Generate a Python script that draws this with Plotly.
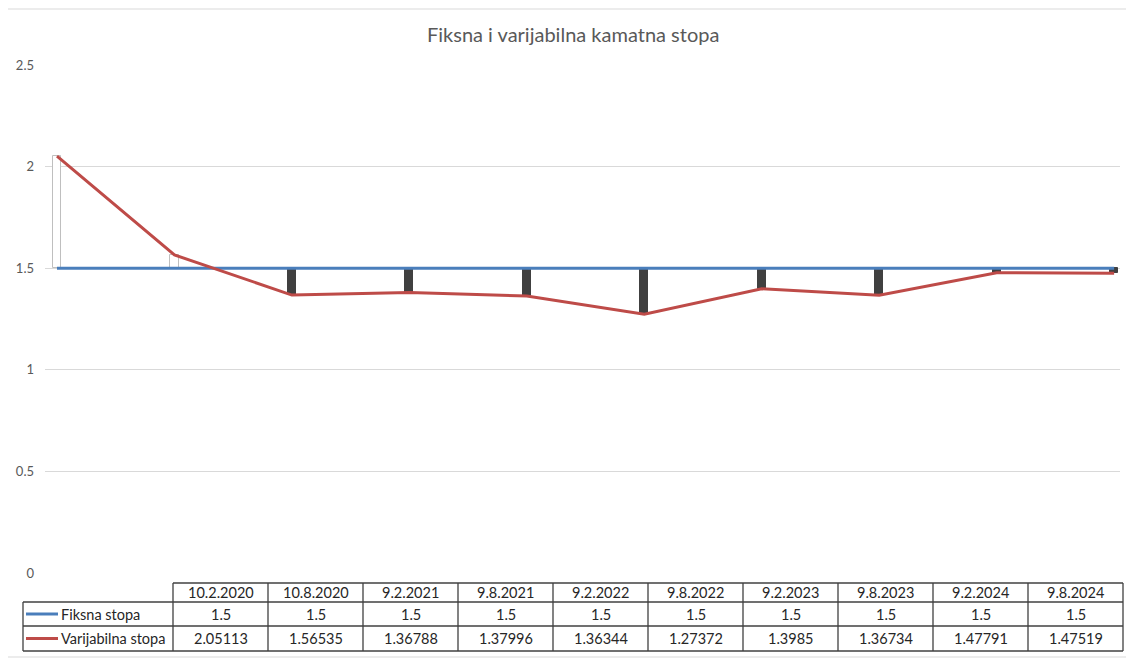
import plotly.graph_objects as go

# ---- data ----
dates = ["10.2.2020", "10.8.2020", "9.2.2021", "9.8.2021", "9.2.2022",
         "9.8.2022", "9.2.2023", "9.8.2023", "9.2.2024", "9.8.2024"]
fiksna = [1.5, 1.5, 1.5, 1.5, 1.5, 1.5, 1.5, 1.5, 1.5, 1.5]
varijabilna = [2.05113, 1.56535, 1.36788, 1.37996, 1.36344,
               1.27372, 1.3985, 1.36734, 1.47791, 1.47519]
series_names = ["Fiksna stopa", "Varijabilna stopa"]
title = "Fiksna i varijabilna kamatna stopa"

W, H = 1134, 659
OFF = 8  # page body margin
FONT = "Lato, 'Open Sans', sans-serif"
BLUE = "#4A7EBB"
RED = "#BE4B48"
GRID = "#D9D9D9"
TXT = "#595959"
TABLE_LINE = "#404040"


def px(x):
    return (x - OFF) / W


def py(y):
    return 1 - (y - OFF) / H


idx = list(range(len(dates)))
diff = [v - f for v, f in zip(varijabilna, fiksna)]
bar_colors = ["#FFFFFF" if d > 0 else "#404040" for d in diff]
bar_lines = ["#BFBFBF" if d > 0 else "#404040" for d in diff]

fig = go.Figure()
fig.add_trace(go.Bar(
    x=idx, y=diff, base=fiksna, width=0.07,
    marker=dict(color=bar_colors, line=dict(color=bar_lines, width=1)),
    hoverinfo="skip", showlegend=False,
))
fig.add_trace(go.Scatter(
    x=idx, y=fiksna, mode="lines", name=series_names[0],
    line=dict(color=BLUE, width=3), showlegend=False,
))
fig.add_trace(go.Scatter(
    x=idx, y=varijabilna, mode="lines", name=series_names[1],
    line=dict(color=RED, width=3), showlegend=False,
))

fig.update_layout(
    width=W, height=H,
    margin=dict(l=0, r=0, t=0, b=0),
    paper_bgcolor="white", plot_bgcolor="white",
    font=dict(family=FONT, color=TXT),
    showlegend=False,
    xaxis=dict(domain=[px(45), px(1120)], range=[-0.102, 9.05],
               showgrid=False, zeroline=False, showticklabels=False,
               showline=False, fixedrange=True, automargin=False),
    yaxis=dict(domain=[py(573), py(65)], range=[0, 2.5], dtick=0.5,
               showgrid=True, gridcolor=GRID, gridwidth=1,
               zeroline=False, showline=False, automargin=False,
               tickfont=dict(size=13, color=TXT, family=FONT),
               ticklabelstandoff=10, fixedrange=True),
    bargap=0,
)

shapes = []
annotations = []

# outer chart border
shapes.append(dict(type="rect", xref="paper", yref="paper",
                   x0=px(6), x1=px(1133), y0=py(9), y1=py(657),
                   line=dict(color=GRID, width=1)))

# title
annotations.append(dict(text=title, xref="paper", yref="paper",
                        x=px(573), y=py(34), showarrow=False,
                        xanchor="center", yanchor="middle",
                        font=dict(size=20, color=TXT, family=FONT)))

# ---- data table ----
col0_left, col_start, col_w = 23, 173, 95
n = len(dates)
right = col_start + col_w * n
rows_y = [583, 602, 626, 651]


def hline(x0, x1, y):
    shapes.append(dict(type="line", xref="paper", yref="paper",
                       x0=px(x0), x1=px(x1), y0=py(y), y1=py(y),
                       line=dict(color=TABLE_LINE, width=1.3)))


def vline(x, y0, y1):
    shapes.append(dict(type="line", xref="paper", yref="paper",
                       x0=px(x), x1=px(x), y0=py(y0), y1=py(y1),
                       line=dict(color=TABLE_LINE, width=1.3)))


hline(col_start, right, rows_y[0])
for y in rows_y[1:]:
    hline(col0_left, right, y)
vline(col0_left, rows_y[1], rows_y[3])
for i in range(n + 1):
    vline(col_start + col_w * i, rows_y[0], rows_y[3])

TFONT = dict(size=14.5, color="#262626", family=FONT)
row_centers = [(rows_y[k] + rows_y[k + 1]) / 2 for k in range(3)]
for i, d in enumerate(dates):
    cx = col_start + col_w * i + col_w / 2
    annotations.append(dict(text=d, xref="paper", yref="paper", x=px(cx),
                            y=py(row_centers[0]), showarrow=False,
                            xanchor="center", yanchor="middle", font=TFONT))
    annotations.append(dict(text=str(fiksna[i]), xref="paper", yref="paper",
                            x=px(cx), y=py(row_centers[1]), showarrow=False,
                            xanchor="center", yanchor="middle", font=TFONT))
    annotations.append(dict(text=str(varijabilna[i]), xref="paper", yref="paper",
                            x=px(cx), y=py(row_centers[2]), showarrow=False,
                            xanchor="center", yanchor="middle", font=TFONT))

# legend keys within the table
for k, (name, col) in enumerate(zip(series_names, [BLUE, RED])):
    yc = row_centers[k + 1]
    shapes.append(dict(type="line", xref="paper", yref="paper",
                       x0=px(26), x1=px(58), y0=py(yc), y1=py(yc),
                       line=dict(color=col, width=3)))
    annotations.append(dict(text=name, xref="paper", yref="paper",
                            x=px(59), y=py(yc), showarrow=False,
                            xanchor="left", yanchor="middle", font=TFONT))

fig.update_layout(shapes=shapes, annotations=annotations)
fig.write_html("out.html")
